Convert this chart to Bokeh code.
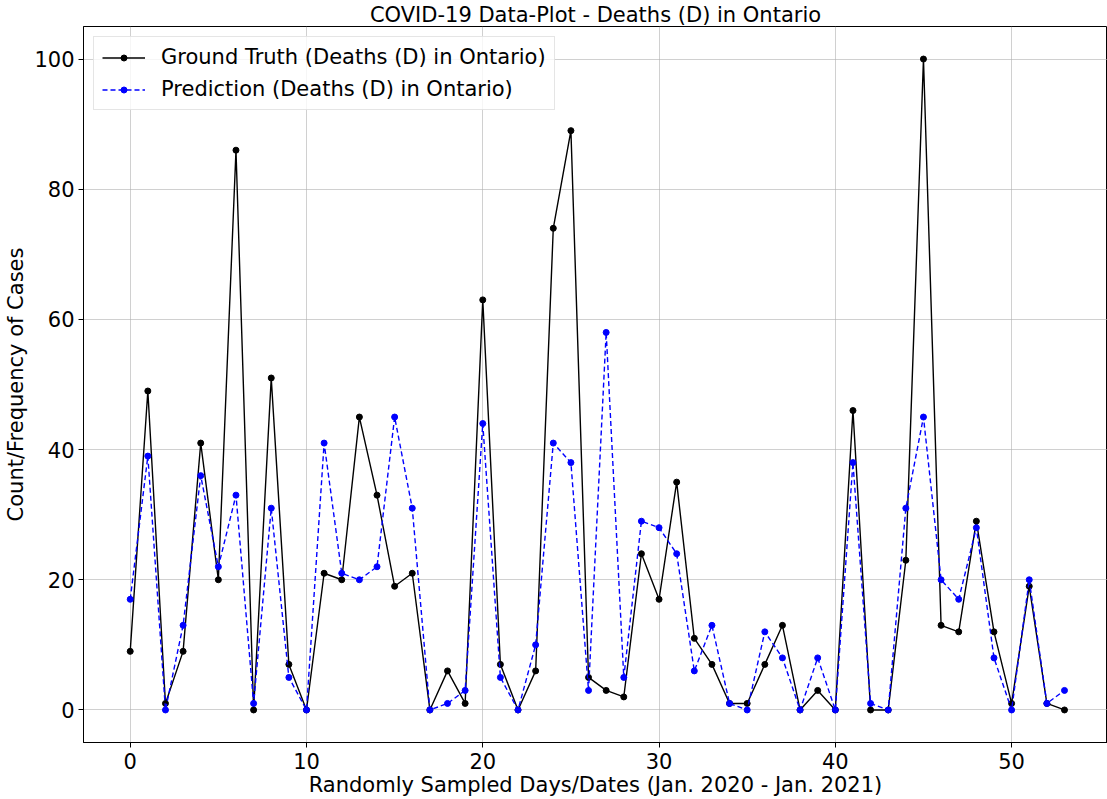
from bokeh.plotting import figure
from bokeh.models import Legend, LegendItem, FixedTicker, Range1d
from bokeh.embed import file_html
from bokeh.resources import INLINE

days = list(range(54))
ground_truth = [9, 49, 1, 9, 41, 20, 86, 0, 51, 7,
                0, 21, 20, 45, 33, 19, 21, 0, 6, 1,
                63, 7, 0, 6, 74, 89, 5, 3, 2, 24,
                17, 35, 11, 7, 1, 1, 7, 13, 0, 3,
                0, 46, 0, 0, 23, 100, 13, 12, 29, 12,
                1, 19, 1, 0]
prediction = [17, 39, 0, 13, 36, 22, 33, 1, 31, 5,
              0, 41, 21, 20, 22, 45, 31, 0, 1, 3,
              44, 5, 0, 10, 41, 38, 3, 58, 5, 29,
              28, 24, 6, 13, 1, 0, 12, 8, 0, 8,
              0, 38, 1, 0, 31, 45, 20, 17, 28, 8,
              0, 20, 1, 3]
x_ticks = [0, 10, 20, 30, 40, 50]
y_ticks = [0, 20, 40, 60, 80, 100]

FONT = "DejaVu Sans"
FS = "21px"

p = figure(width=1107, height=799, output_backend="svg", toolbar_location=None,
           x_range=Range1d(-2.65, 55.44), y_range=Range1d(-5, 105),
           min_border_left=83, min_border_right=0, min_border_top=26,
           min_border_bottom=57,
           title="COVID-19 Data-Plot - Deaths (D) in Ontario")

p.title.text_font = FONT
p.title.text_font_size = FS
p.title.text_font_style = "normal"
p.title.text_color = "black"
p.title.align = "center"
p.title.standoff = 0
p.title.offset = 0

p.outline_line_color = "black"
p.outline_line_width = 1

for ax in (p.xaxis[0], p.yaxis[0]):
    ax.major_label_text_font = FONT
    ax.major_label_text_font_size = FS
    ax.major_label_text_color = "black"
    ax.axis_label_text_font = FONT
    ax.axis_label_text_font_size = FS
    ax.axis_label_text_font_style = "normal"
    ax.axis_label_text_color = "black"
    ax.major_tick_out = 5
    ax.major_tick_in = 0
    ax.minor_tick_line_color = None
    ax.axis_line_color = "black"
    ax.major_tick_line_color = "black"

p.xaxis.ticker = FixedTicker(ticks=x_ticks)
p.yaxis.ticker = FixedTicker(ticks=y_ticks)
p.xaxis.axis_label = "Randomly Sampled Days/Dates (Jan. 2020 - Jan. 2021)"
p.yaxis.axis_label = "Count/Frequency of Cases"
p.xaxis.major_label_standoff = 5
p.xaxis.axis_label_standoff = 1
p.yaxis.major_label_standoff = 4
p.yaxis.axis_label_standoff = 3

p.xgrid.ticker = FixedTicker(ticks=x_ticks)
p.ygrid.ticker = FixedTicker(ticks=y_ticks)
p.grid.grid_line_color = "#b0b0b0"
p.grid.grid_line_alpha = 0.6
p.grid.grid_line_width = 1

gt_line = p.line(days, ground_truth, line_color="black", line_width=1.4)
gt_pts = p.scatter(days, ground_truth, size=6, marker="circle",
                   fill_color="black", line_color="black")
pr_line = p.line(days, prediction, line_color="blue", line_width=1.4,
                 line_dash="5 3")
pr_pts = p.scatter(days, prediction, size=6, marker="circle",
                   fill_color="blue", line_color="blue")

legend = Legend(items=[
    LegendItem(label="Ground Truth (Deaths (D) in Ontario)", renderers=[gt_line, gt_pts]),
    LegendItem(label="Prediction (Deaths (D) in Ontario)", renderers=[pr_line, pr_pts]),
], location="top_left")
legend.label_text_font = FONT
legend.label_text_font_size = FS
legend.label_text_color = "black"
legend.glyph_width = 43
legend.glyph_height = 15
legend.label_height = 24
legend.label_standoff = 16
legend.spacing = 8
legend.padding = 8
legend.margin = 10
legend.border_line_color = "#cccccc"
legend.border_line_width = 1
legend.background_fill_alpha = 0.8
p.add_layout(legend)

open("out.html", "w").write(file_html(p, INLINE))
